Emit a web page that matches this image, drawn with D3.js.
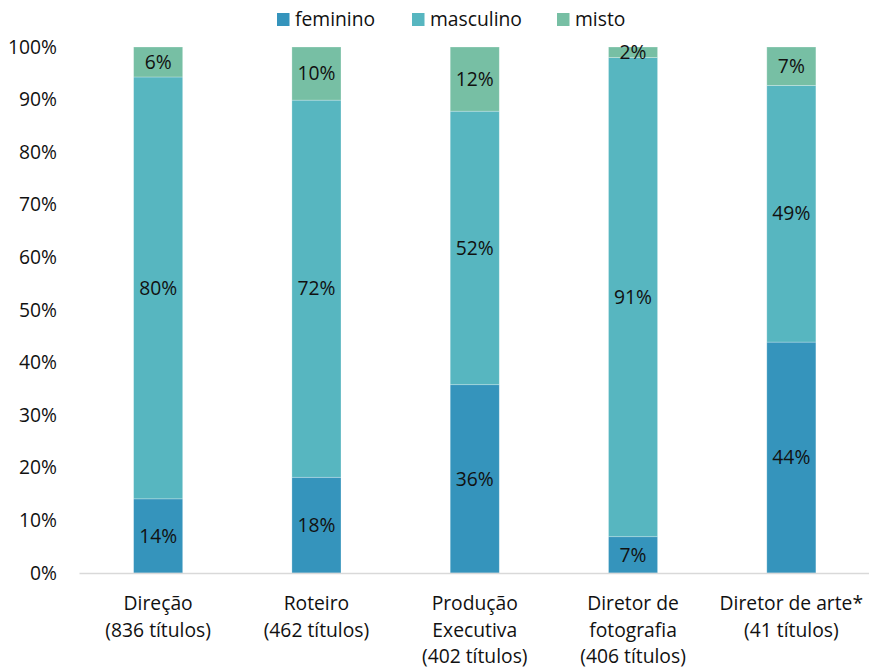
<!DOCTYPE html>
<html lang="pt">
<head>
<meta charset="UTF-8">
<title>Composição por gênero</title>
<style>
    body { margin: 0; background: #fff; }
    text { font-family: "Open Sans", "Noto Sans", sans-serif; fill: #111; }
</style>
</head>
<body>
<script src="https://d3js.org/d3.v7.min.js"></script>
<script>
    let categories = [
        ['Direção', '(836 títulos)'],
        ['Roteiro', '(462 títulos)'],
        ['Produção', 'Executiva', '(402 títulos)'],
        ['Diretor de', 'fotografia', '(406 títulos)'],
        ['Diretor de arte*', '(41 títulos)']
    ];
    let series = ['feminino', 'masculino', 'misto'];
    let feminino = [14.1, 18.2, 35.8, 6.9, 43.9];
    let masculino = [80.2, 71.7, 52.0, 91.1, 48.8];
    let misto = [5.7, 10.1, 12.2, 2.0, 7.3];
    let labels = [
        ['14%', '80%', '6%'],
        ['18%', '72%', '10%'],
        ['36%', '52%', '12%'],
        ['7%', '91%', '2%'],
        ['44%', '49%', '7%']
    ];
    let yTicks = [0, 10, 20, 30, 40, 50, 60, 70, 80, 90, 100];
    let colors = ['#3594bc', '#57b6c0', '#77bfa4'];

    let width = 869;
    let height = 667;
    let padding = { top: 47, right: 0, bottom: 94, left: 79 };
    let fs = 19.3;

    let svg = d3.select('body').append('svg')
        .attr('width', width)
        .attr('height', height);

    let keys = categories.map((c, i) => i);
    let table = keys.map(i => ({ i: i, feminino: feminino[i], masculino: masculino[i], misto: misto[i] }));
    let stacked = d3.stack().keys(series)(table);

    let xScale = d3.scaleBand()
        .domain(keys)
        .range([padding.left, width - padding.right + 1.5])
        .paddingInner(0.69)
        .paddingOuter(0.345);
    let yScale = d3.scaleLinear()
        .domain([0, 100])
        .range([height - padding.bottom, padding.top]);

    // y axis labels
    let yAxis = d3.axisLeft(yScale)
        .tickValues(yTicks)
        .tickFormat(d => d + '%')
        .tickSize(0)
        .tickPadding(0);
    let gy = svg.append('g')
        .attr('transform', 'translate(57,0)')
        .call(yAxis);
    gy.select('.domain').remove();
    gy.selectAll('text').attr('font-size', fs).attr('fill', '#111')
        .attr('font-family', '"Open Sans", sans-serif');

    // bars
    let groups = svg.selectAll('g.layer').data(stacked).enter()
        .append('g').attr('class', 'layer')
        .attr('fill', (d, k) => colors[k]);
    groups.selectAll('rect').data(d => d).enter()
        .append('rect')
        .attr('x', d => xScale(d.data.i))
        .attr('width', xScale.bandwidth())
        .attr('y', d => yScale(d[1]))
        .attr('height', d => yScale(d[0]) - yScale(d[1]))
        .attr('stroke', '#ffffff')
        .attr('stroke-opacity', 0.35)
        .attr('stroke-width', 0.75);

    // value labels
    stacked.forEach((layer, k) => {
        svg.append('g').selectAll('text').data(layer).enter()
            .append('text')
            .attr('x', d => xScale(d.data.i) + xScale.bandwidth() / 2)
            .attr('y', d => yScale((d[0] + d[1]) / 2))
            .attr('dy', '0.35em')
            .attr('text-anchor', 'middle')
            .attr('font-size', fs)
            .text(d => labels[d.data.i][k]);
    });

    // x axis
    let xAxis = d3.axisBottom(xScale).tickSize(0).tickFormat('');
    let gx = svg.append('g')
        .attr('transform', 'translate(0,' + (height - padding.bottom) + ')')
        .call(xAxis);
    gx.select('.domain').attr('stroke', '#d9d9d9').attr('stroke-width', 1.5);

    categories.forEach((lines, i) => {
        let t = svg.append('text')
            .attr('text-anchor', 'middle')
            .attr('font-size', fs)
            .attr('x', xScale(i) + xScale.bandwidth() / 2)
            .attr('y', 610);
        lines.forEach((l, j) => {
            t.append('tspan')
                .attr('x', xScale(i) + xScale.bandwidth() / 2)
                .attr('dy', j === 0 ? 0 : 26.5)
                .text(l);
        });
    });

    // legend
    let legendX = [277, 412, 557];
    let legend = svg.append('g');
    series.forEach((s, k) => {
        legend.append('rect')
            .attr('x', legendX[k])
            .attr('y', 13)
            .attr('width', 12.5)
            .attr('height', 13)
            .attr('fill', colors[k]);
        legend.append('text')
            .attr('x', legendX[k] + 18)
            .attr('y', 19)
            .attr('dy', '0.35em')
            .attr('font-size', fs)
            .text(s);
    });
</script>
</body>
</html>
